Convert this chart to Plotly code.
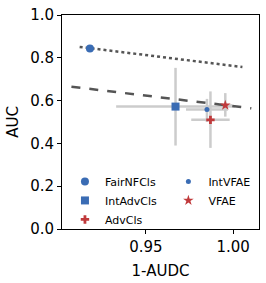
import plotly.graph_objects as go

# Data
methods = ["FairNFCls", "IntAdvCls", "AdvCls", "IntVFAE", "VFAE"]
x_vals = [0.918, 0.967, 0.987, 0.985, 0.9955]
y_vals = [0.844, 0.572, 0.510, 0.558, 0.578]
x_err = [0.0, 0.034, 0.011, 0.012, 0.004]
y_err_plus = [0.0, 0.181, 0.133, 0.050, 0.057]
y_err_minus = [0.0, 0.182, 0.131, 0.058, 0.053]

dotted_x = [0.9121, 1.0053]
dotted_y = [0.851, 0.757]
dashed_x = [0.9074, 1.0104]
dashed_y = [0.665, 0.564]

BLUE = "#3a6cb4"
RED = "#c0393b"
colors = {"FairNFCls": BLUE, "IntAdvCls": BLUE, "AdvCls": RED, "IntVFAE": BLUE, "VFAE": RED}
symbols = {"FairNFCls": "circle", "IntAdvCls": "square", "AdvCls": "cross", "IntVFAE": "circle", "VFAE": "star"}
sizes = {"FairNFCls": 8, "IntAdvCls": 8, "AdvCls": 7, "IntVFAE": 5, "VFAE": 8}
legend_of = {"FairNFCls": "legend", "IntAdvCls": "legend", "AdvCls": "legend", "IntVFAE": "legend2", "VFAE": "legend2"}

fig = go.Figure()

# error bars first (beneath lines)
for i, m in enumerate(methods):
    if x_err[i] == 0 and y_err_plus[i] == 0:
        continue
    fig.add_trace(go.Scatter(
        x=[x_vals[i]], y=[y_vals[i]], mode="markers",
        marker=dict(size=1, opacity=0),
        error_x=dict(type="data", array=[x_err[i]], color="#cccccc", thickness=2.5, width=0),
        error_y=dict(type="data", array=[y_err_plus[i]], arrayminus=[y_err_minus[i]], symmetric=False,
                     color="#cccccc", thickness=2.5, width=0),
        showlegend=False, hoverinfo="skip"))

fig.add_trace(go.Scatter(x=dotted_x, y=dotted_y, mode="lines",
                         line=dict(color="#555555", width=2.5, dash="dot"), showlegend=False))
fig.add_trace(go.Scatter(x=dashed_x, y=dashed_y, mode="lines",
                         line=dict(color="#555555", width=2.5, dash="dash"), showlegend=False))

for i, m in enumerate(methods):
    fig.add_trace(go.Scatter(
        x=[x_vals[i]], y=[y_vals[i]], mode="markers", name=m,
        marker=dict(color=colors[m], symbol=symbols[m], size=sizes[m], line=dict(width=0)),
        legend=legend_of[m]))

font = "DejaVu Sans, sans-serif"
fig.update_layout(
    width=266, height=283,
    margin=dict(l=62, r=6, t=11, b=53),
    paper_bgcolor="white", plot_bgcolor="white",
    font=dict(family=font, color="black"),
    legend=dict(x=0.015, y=0.29, xanchor="left", yanchor="top", bgcolor="rgba(0,0,0,0)",
                font=dict(size=11), tracegroupgap=0, itemsizing="trace"),
    legend2=dict(x=0.54, y=0.29, xanchor="left", yanchor="top", bgcolor="rgba(0,0,0,0)",
                 font=dict(size=11), tracegroupgap=0, itemsizing="trace"),
)
fig.update_xaxes(range=[0.902, 1.0148], tickvals=[0.95, 1.00], ticktext=["0.95", "1.00"],
                 showgrid=False, zeroline=False, showline=True, linecolor="black", linewidth=1,
                 mirror=True, ticks="outside", ticklen=4, tickcolor="black",
                 tickfont=dict(size=15), title=dict(text="1-AUDC", font=dict(size=15), standoff=10))
fig.update_yaxes(range=[0, 1.0], tickvals=[0, 0.2, 0.4, 0.6, 0.8, 1.0],
                 ticktext=["0.0", "0.2", "0.4", "0.6", "0.8", "1.0"],
                 showgrid=False, zeroline=False, showline=True, linecolor="black", linewidth=1,
                 mirror=True, ticks="outside", ticklen=4, tickcolor="black",
                 tickfont=dict(size=15), title=dict(text="AUC", font=dict(size=15), standoff=7))

fig.write_html("out.html", config={"displayModeBar": False},
               post_script="document.body.style.margin='0';")
